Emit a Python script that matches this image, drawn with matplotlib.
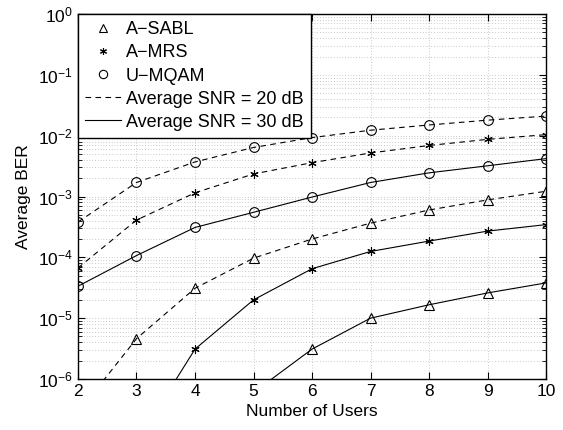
import numpy as np
import matplotlib
matplotlib.use('Agg')
import matplotlib.pyplot as plt
from matplotlib.lines import Line2D

# number of users
users = [2, 3, 4, 5, 6, 7, 8, 9, 10]

# Average SNR = 20 dB (dashed)
sabl_20 = [2.8e-7, 4.6e-6, 3.1e-5, 9.7e-5, 2.0e-4, 3.65e-4, 6.0e-4, 8.8e-4, 1.22e-3]
mrs_20 = [6.7e-5, 4.1e-4, 1.15e-3, 2.35e-3, 3.6e-3, 5.2e-3, 6.9e-3, 8.7e-3, 1.04e-2]
mqam_20 = [3.8e-4, 1.7e-3, 3.7e-3, 6.4e-3, 9.3e-3, 1.23e-2, 1.5e-2, 1.8e-2, 2.1e-2]

# Average SNR = 30 dB (solid)
sabl_30 = [1e-10, 1e-9, 1e-8, 6.0e-7, 3.1e-6, 1.0e-5, 1.66e-5, 2.6e-5, 3.8e-5]
mrs_30 = [1e-9, 9e-8, 3.1e-6, 2.0e-5, 6.5e-5, 1.25e-4, 1.85e-4, 2.7e-4, 3.45e-4]
mqam_30 = [3.35e-5, 1.07e-4, 3.1e-4, 5.5e-4, 9.8e-4, 1.7e-3, 2.45e-3, 3.2e-3, 4.2e-3]

plt.rcParams['font.family'] = ['Liberation Sans', 'DejaVu Sans']

fig = plt.figure(figsize=(5.63, 4.30), dpi=100)
ax = fig.add_axes([0.1385, 0.1186, 0.8315, 0.8488])

mk = dict(markerfacecolor='none', markeredgecolor='k', markeredgewidth=0.8, color='k')
star = (6, 2, 0)
dash = (0, (5, 4))
ax.semilogy(users, sabl_20, linestyle=dash, lw=0.8, marker='^', ms=7, **mk)
ax.semilogy(users, mrs_20, linestyle=dash, lw=0.8, marker=star, ms=6, **mk)
ax.semilogy(users, mqam_20, linestyle=dash, lw=0.8, marker='o', ms=7, **mk)
ax.semilogy(users, sabl_30, linestyle='-', lw=0.8, marker='^', ms=7, **mk)
ax.semilogy(users, mrs_30, linestyle='-', lw=0.8, marker=star, ms=6, **mk)
ax.semilogy(users, mqam_30, linestyle='-', lw=0.8, marker='o', ms=7, **mk)

ax.set_xlim(2, 10)
ax.set_ylim(1e-6, 1e0)
ax.set_xticks(users)
ax.set_yticks([1e-6, 1e-5, 1e-4, 1e-3, 1e-2, 1e-1, 1e0])

ax.grid(True, which='major', axis='x', linestyle=(0, (1, 3)), color='#999999', lw=0.5)
ax.grid(True, which='both', axis='y', linestyle=(0, (1, 3)), color='#999999', lw=0.5)

ax.tick_params(which='both', direction='in', top=True, right=True, labelsize=12.5)
ax.tick_params(which='major', length=5)
ax.tick_params(which='minor', length=3)
for s in ax.spines.values():
    s.set_linewidth(1.0)

ax.set_xlabel('Number of Users', fontsize=12.5, labelpad=4)
ax.set_ylabel('Average BER', fontsize=12.5, labelpad=5)

handles = [
    Line2D([], [], linestyle='none', marker='^', ms=6, **mk),
    Line2D([], [], linestyle='none', marker=star, ms=5, **mk),
    Line2D([], [], linestyle='none', marker='o', ms=6, **mk),
    Line2D([], [], linestyle=dash, lw=0.8, color='k'),
    Line2D([], [], linestyle='-', lw=0.8, color='k'),
]
labels = ['A\u2212SABL', 'A\u2212MRS', 'U\u2212MQAM',
          'Average SNR = 20 dB', 'Average SNR = 30 dB']
leg = ax.legend(handles, labels, loc='upper left', fontsize=13, fancybox=False,
                framealpha=1, edgecolor='k', borderpad=0.4, labelspacing=0.34,
                handlelength=2.0, handletextpad=0.25, borderaxespad=0)
leg.get_frame().set_linewidth(1.0)

fig.savefig('out.png', dpi=100)
